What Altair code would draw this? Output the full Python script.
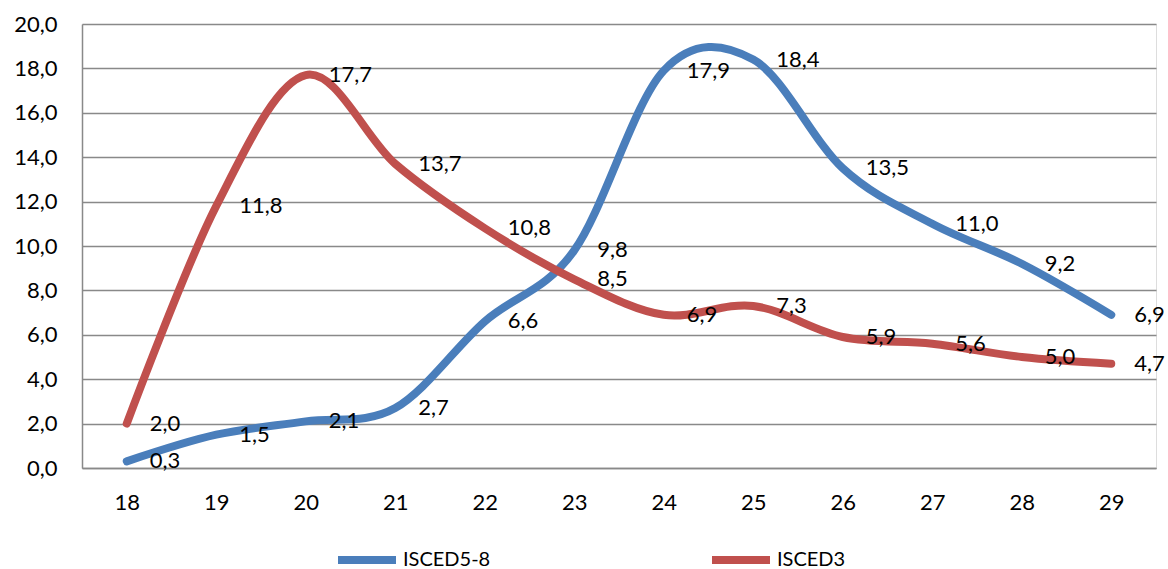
import altair as alt
import pandas as pd

ages = ["18", "19", "20", "21", "22", "23", "24", "25", "26", "27", "28", "29"]
isced58 = [0.3, 1.5, 2.1, 2.7, 6.6, 9.8, 17.9, 18.4, 13.5, 11.0, 9.2, 6.9]
isced3 = [2.0, 11.8, 17.7, 13.7, 10.8, 8.5, 6.9, 7.3, 5.9, 5.6, 5.0, 4.7]
series_names = ["ISCED5-8", "ISCED3"]
series_colors = ["#4A7EBB", "#C0504D"]

rows = []
for name, vals in zip(series_names, [isced58, isced3]):
    for a, v in zip(ages, vals):
        rows.append({"age": a, "value": v, "series": name})
df = pd.DataFrame(rows)

FONT = "Lato"
FS = 22

x_enc = alt.X(
    "age:O",
    sort=ages,
    scale=alt.Scale(type="point", padding=0.5),
    axis=alt.Axis(
        title=None, labelAngle=0, ticks=False, grid=False,
        domainColor="#898989", domainWidth=1.5,
        labelFont=FONT, labelFontSize=FS, labelColor="#000000", labelPadding=24,
    ),
)
y_enc = alt.Y(
    "value:Q",
    scale=alt.Scale(domain=[0, 20], nice=False),
    axis=alt.Axis(
        title=None, values=list(range(0, 21, 2)), ticks=False,
        grid=True, gridColor="#898989", gridWidth=1.5,
        domainColor="#898989", domainWidth=1.5,
        labelFont=FONT, labelFontSize=FS, labelColor="#000000", labelPadding=25,
        labelExpr="replace(format(datum.value, '.1f'), '.', ',')",
    ),
)
color_enc = alt.Color(
    "series:N",
    scale=alt.Scale(domain=series_names, range=series_colors),
    legend=alt.Legend(
        title=None, orient="none", legendX=252, legendY=503,
        direction="horizontal", symbolType="stroke", symbolSize=3364,
        symbolStrokeWidth=8, labelFont=FONT, labelFontSize=20,
        labelColor="#000000", labelOffset=3, columnPadding=205, padding=0,
    ),
)

base = alt.Chart(df)


def line_layer(name):
    return base.transform_filter(alt.datum.series == name).mark_line(
        strokeWidth=8, strokeCap="round", strokeJoin="round",
        interpolate="cardinal", tension=0,
    ).encode(x=x_enc, y=y_enc, color=color_enc)


labels = base.transform_calculate(
    lbl="replace(format(datum.value, '.1f'), '.', ',')"
).mark_text(
    align="left", baseline="middle", dx=23, font=FONT, fontSize=FS, color="#000000"
).encode(x=x_enc, y=y_enc, text="lbl:N")

chart = alt.layer(line_layer("ISCED5-8"), line_layer("ISCED3"), labels).properties(
    width=1074, height=444,
    padding={"left": 82, "top": 24, "right": 12, "bottom": 101},
    autosize=alt.AutoSizeParams(type="none"),
).configure_view(stroke=None).configure(background="#ffffff")

chart.save("out.html", embed_options={"renderer": "svg", "actions": False})
